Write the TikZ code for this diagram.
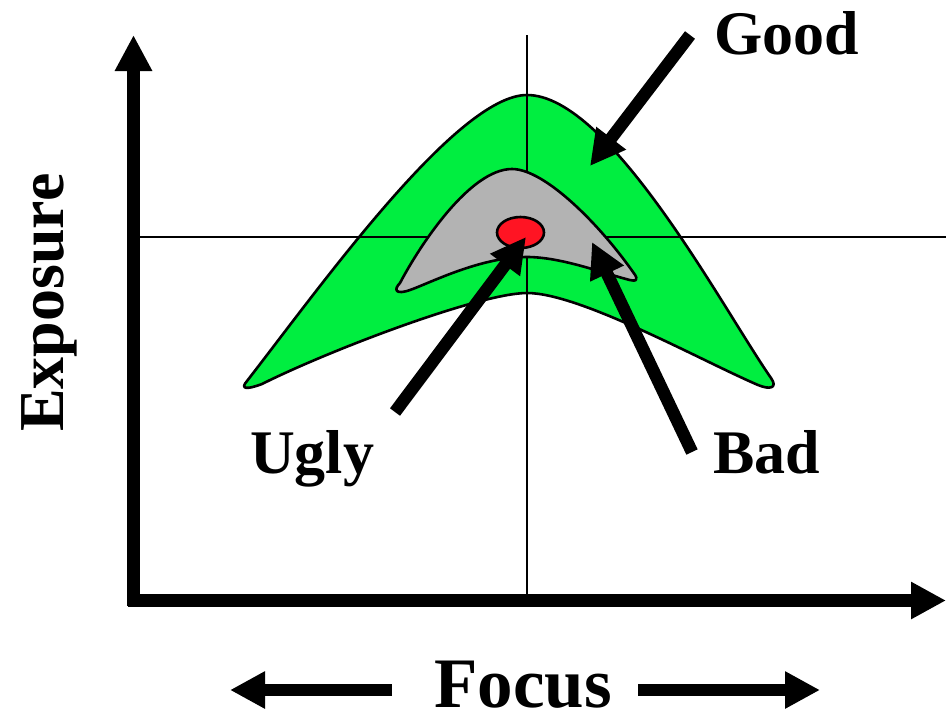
\documentclass[tikz,border=0pt]{standalone}
\usepackage{fontspec}
\setmainfont{Liberation Serif}
\usetikzlibrary{arrows.meta,shapes.geometric}
\definecolor{goodgreen}{RGB}{0,238,64}
\definecolor{badgray}{RGB}{179,179,179}
\definecolor{uglyred}{RGB}{255,20,35}
\begin{document}
\begin{tikzpicture}[x=1pt,y=-1pt,
  bigarrow/.style={line width=12.5pt, -{Triangle[length=35pt,width=35pt]}},
  gridline/.style={line width=1.5pt},
  region/.style={draw=black, line width=2.6pt, line join=round},
  lbl/.style={font=\fontsize{62}{62}\selectfont\bfseries, inner sep=0pt, text depth=0pt}]
\useasboundingbox (0,0) rectangle (951,716);
% good region
\draw[region, fill=goodgreen]
  (247,381) .. controls (320,287) and (457,95) .. (527,95)
  .. controls (610,95) and (723,309) .. (771,378)
  .. controls (778,388) and (770,390) .. (758,385)
  .. controls (700,360) and (580,293) .. (527,293)
  .. controls (480,293) and (330,350) .. (262,384)
  .. controls (246,390) and (240,389) .. cycle;
% grid lines
\coordinate (vtop) at (527,35);
\coordinate (vbot) at (527,600);
\coordinate (hleft) at (140,237);
\coordinate (hright) at (946,237);
\draw[gridline] (vtop) -- (vbot);
\draw[gridline] (hleft) -- (hright);
% bad region
\draw[region, fill=badgray]
  (400,283) .. controls (420,245) and (470,169) .. (512,169)
  .. controls (545,169) and (600,225) .. (633,272)
  .. controls (640,281) and (636,282) .. (626,279)
  .. controls (600,272) and (560,257) .. (527,257)
  .. controls (480,257) and (430,283) .. (410,290)
  .. controls (396,295) and (393,290) .. cycle;
% ugly region
\node[region, fill=uglyred, ellipse, minimum width=47pt, minimum height=31pt, inner sep=0pt] (red) at (520.5,232.5) {};
% axes
\coordinate (origin) at (133.5,606);
\coordinate (ytip) at (133.5,35);
\coordinate (xstart) at (128,600.5);
\coordinate (xtip) at (946,600.5);
\draw[bigarrow, -{Triangle[length=36pt,width=35pt]}] (origin) -- (ytip);
\draw[bigarrow] (xstart) -- (xtip);
% labels
\node[lbl, anchor=base west] (good) at (714,54) {Good};
\node[lbl, anchor=base west] (ugly) at (250,473) {Ugly};
\node[lbl, anchor=base west] (bad) at (713,473) {Bad};
\node[lbl, font=\fontsize{71}{71}\selectfont\bfseries, anchor=base] (focus) at (523,707) {Focus};
\node[lbl, font=\fontsize{64}{64}\selectfont\bfseries, rotate=90, anchor=base west] (exposure) at (63,432) {Exposure};
% pointer arrows
\coordinate (goodtail) at (690,35);
\coordinate (goodtip) at (590,166);
\coordinate (uglytail) at (395,412);
\coordinate (uglytip) at (526,237);
\coordinate (badtail) at (692,452);
\coordinate (badtip) at (592,242);
\draw[bigarrow] (goodtail) -- (goodtip);
\draw[bigarrow] (uglytail) -- (uglytip);
\draw[bigarrow] (badtail) -- (badtip);
% focus arrows
\coordinate (fl1) at (392,690);
\coordinate (fl2) at (230,690);
\coordinate (fr1) at (638,690);
\coordinate (fr2) at (820,690);
\draw[bigarrow] (fl1) -- (fl2);
\draw[bigarrow] (fr1) -- (fr2);
\end{tikzpicture}
\end{document}
